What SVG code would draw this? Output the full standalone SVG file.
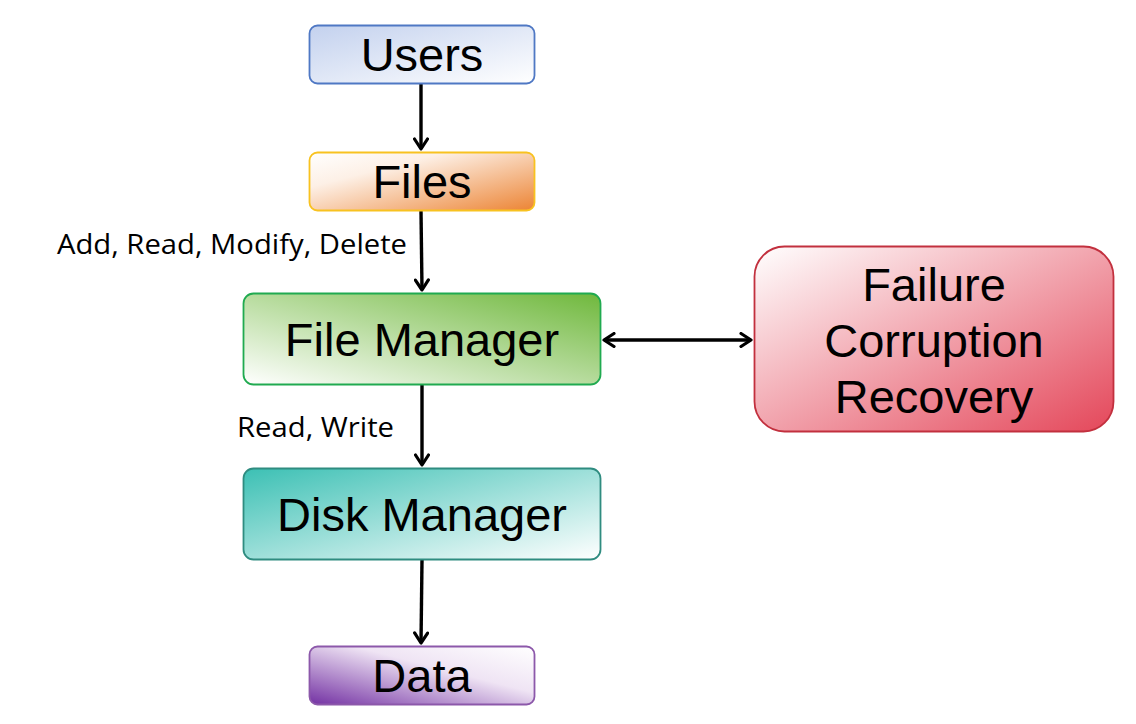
<svg xmlns="http://www.w3.org/2000/svg" width="1136" height="724" viewBox="0 0 1136 724">
<style>
.t{font-family:"Liberation Sans",Arial,sans-serif;font-size:47px;fill:#000;text-anchor:middle}
.l{font-family:"Open Sans","Noto Sans",sans-serif;font-size:27px;fill:#000}
.c{stroke:#000;stroke-width:3.4;fill:none}
</style>
<defs>
<linearGradient id="gU" x1="0" y1="0" x2="1" y2="1"><stop offset="0" stop-color="#c3d1ee"/><stop offset="1" stop-color="#ffffff"/></linearGradient>
<linearGradient id="gF" x1="0" y1="0" x2="1" y2="1"><stop offset="0" stop-color="#ffffff"/><stop offset="0.3" stop-color="#fdf0e6"/><stop offset="1" stop-color="#ec8434"/></linearGradient>
<linearGradient id="gM" x1="0" y1="1" x2="1" y2="0"><stop offset="0" stop-color="#ffffff"/><stop offset="1" stop-color="#6fb83c"/></linearGradient>
<linearGradient id="gD" x1="0" y1="0" x2="1" y2="1"><stop offset="0" stop-color="#3cc0b4"/><stop offset="1" stop-color="#ffffff"/></linearGradient>
<linearGradient id="gA" x1="0" y1="1" x2="1" y2="0"><stop offset="0" stop-color="#7331a3"/><stop offset="0.6" stop-color="#efe4f4"/><stop offset="1" stop-color="#ffffff"/></linearGradient>
<linearGradient id="gR" x1="0" y1="0" x2="1" y2="1"><stop offset="0" stop-color="#ffffff"/><stop offset="1" stop-color="#e4475a"/></linearGradient>
<marker id="ah" viewBox="0 0 16 16" refX="14" refY="8" markerWidth="16" markerHeight="16" markerUnits="userSpaceOnUse" orient="auto-start-reverse">
<path d="M4,1.5 L14,8 L4,14.5" fill="none" stroke="#000" stroke-width="3.2" stroke-linecap="round" stroke-linejoin="round"/>
</marker>
</defs>
<rect width="1136" height="724" fill="#fff"/>
<g id="connectors">
<line class="c" x1="421" y1="84" x2="421" y2="149" marker-end="url(#ah)"/>
<line class="c" x1="421" y1="211" x2="422" y2="290" marker-end="url(#ah)"/>
<line class="c" x1="422" y1="385" x2="422" y2="465" marker-end="url(#ah)"/>
<line class="c" x1="422" y1="560" x2="421" y2="643" marker-end="url(#ah)"/>
<line class="c" x1="604" y1="340" x2="751" y2="340" marker-start="url(#ah)" marker-end="url(#ah)"/>
<text class="l" x="57" y="254" textLength="350" lengthAdjust="spacingAndGlyphs">Add, Read, Modify, Delete</text>
<text class="l" x="237" y="437" textLength="157" lengthAdjust="spacingAndGlyphs">Read, Write</text>
</g>
<g id="users">
<rect x="309.5" y="25.5" width="225" height="58" rx="8" fill="url(#gU)" stroke="#4f78c4" stroke-width="1.8"/>
<text class="t" x="422" y="71">Users</text>
</g>
<g id="files">
<rect x="309.5" y="152.5" width="225" height="58" rx="8" fill="url(#gF)" stroke="#f8c220" stroke-width="1.8"/>
<text class="t" x="422" y="198">Files</text>
</g>
<g id="file-manager">
<rect x="243.5" y="293.5" width="357" height="91" rx="10" fill="url(#gM)" stroke="#20aa50" stroke-width="1.8"/>
<text class="t" x="422" y="356">File Manager</text>
</g>
<g id="disk-manager">
<rect x="243.5" y="468.5" width="357" height="91" rx="10" fill="url(#gD)" stroke="#2f8c80" stroke-width="1.8"/>
<text class="t" x="422" y="531">Disk Manager</text>
</g>
<g id="data">
<rect x="309.5" y="646.5" width="225" height="58" rx="8" fill="url(#gA)" stroke="#8c58aa" stroke-width="1.8"/>
<text class="t" x="422" y="692">Data</text>
</g>
<g id="failure">
<rect x="754.5" y="246.5" width="359" height="185" rx="30" fill="url(#gR)" stroke="#c2303e" stroke-width="1.8"/>
<text class="t" x="934" y="301">Failure</text>
<text class="t" x="934" y="357">Corruption</text>
<text class="t" x="934" y="413">Recovery</text>
</g>
</svg>
